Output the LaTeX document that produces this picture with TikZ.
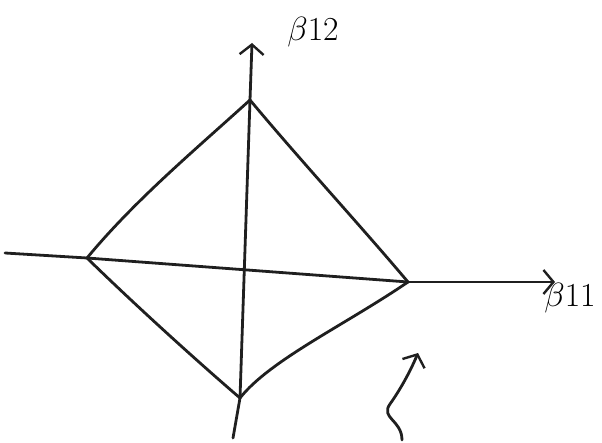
\documentclass[tikz,border=0pt]{standalone}
\usetikzlibrary{arrows.meta}
\begin{document}
\begin{tikzpicture}[x=1pt,y=-1pt,
  pen/.style={line width=2.8pt,line cap=round,line join=round,black!88},
  barb/.style={-{Straight Barb[length=10pt,width=24pt,line width=2.4pt]}},
  lbl/.style={font=\Huge,scale=1.35,inner sep=0pt}]
\useasboundingbox (0,0) rectangle (602,443);
% vertices and axis ends
\coordinate (T) at (250,100);
\coordinate (R) at (408,282);
\coordinate (B) at (240,398);
\coordinate (L) at (87,258);
\coordinate (xs) at (5,253);
\coordinate (xe) at (555,282);
\coordinate (ys) at (233,438);
\coordinate (ye) at (252,43);
% axes
\draw[pen] (xs) -- (L) -- (R);
\draw[pen,barb] (R) -- (xe);
\draw[pen,barb] (ys) -- (B) -- (T) -- (ye);
% diamond
\draw[pen] (L) .. controls (135,200) and (195,150) .. (T);
\draw[pen] (T) .. controls (300,160) and (360,225) .. (R);
\draw[pen] (R) .. controls (345,325) and (270,360) .. (B);
\draw[pen] (B) .. controls (190,355) and (130,300) .. (L);
% labels
\node[lbl] (b12) at (313,32) {$\beta12$};
\node[lbl] (b11) at (570,298) {$\beta11$};
% squiggle arrow
\coordinate (s0) at (402,440);
\coordinate (s1) at (418,353);
\draw[pen,barb] (s0) .. controls (402,420) and (380,418) .. (390,404) .. controls (400,390) and (410,372) .. (s1);
\end{tikzpicture}
\end{document}
